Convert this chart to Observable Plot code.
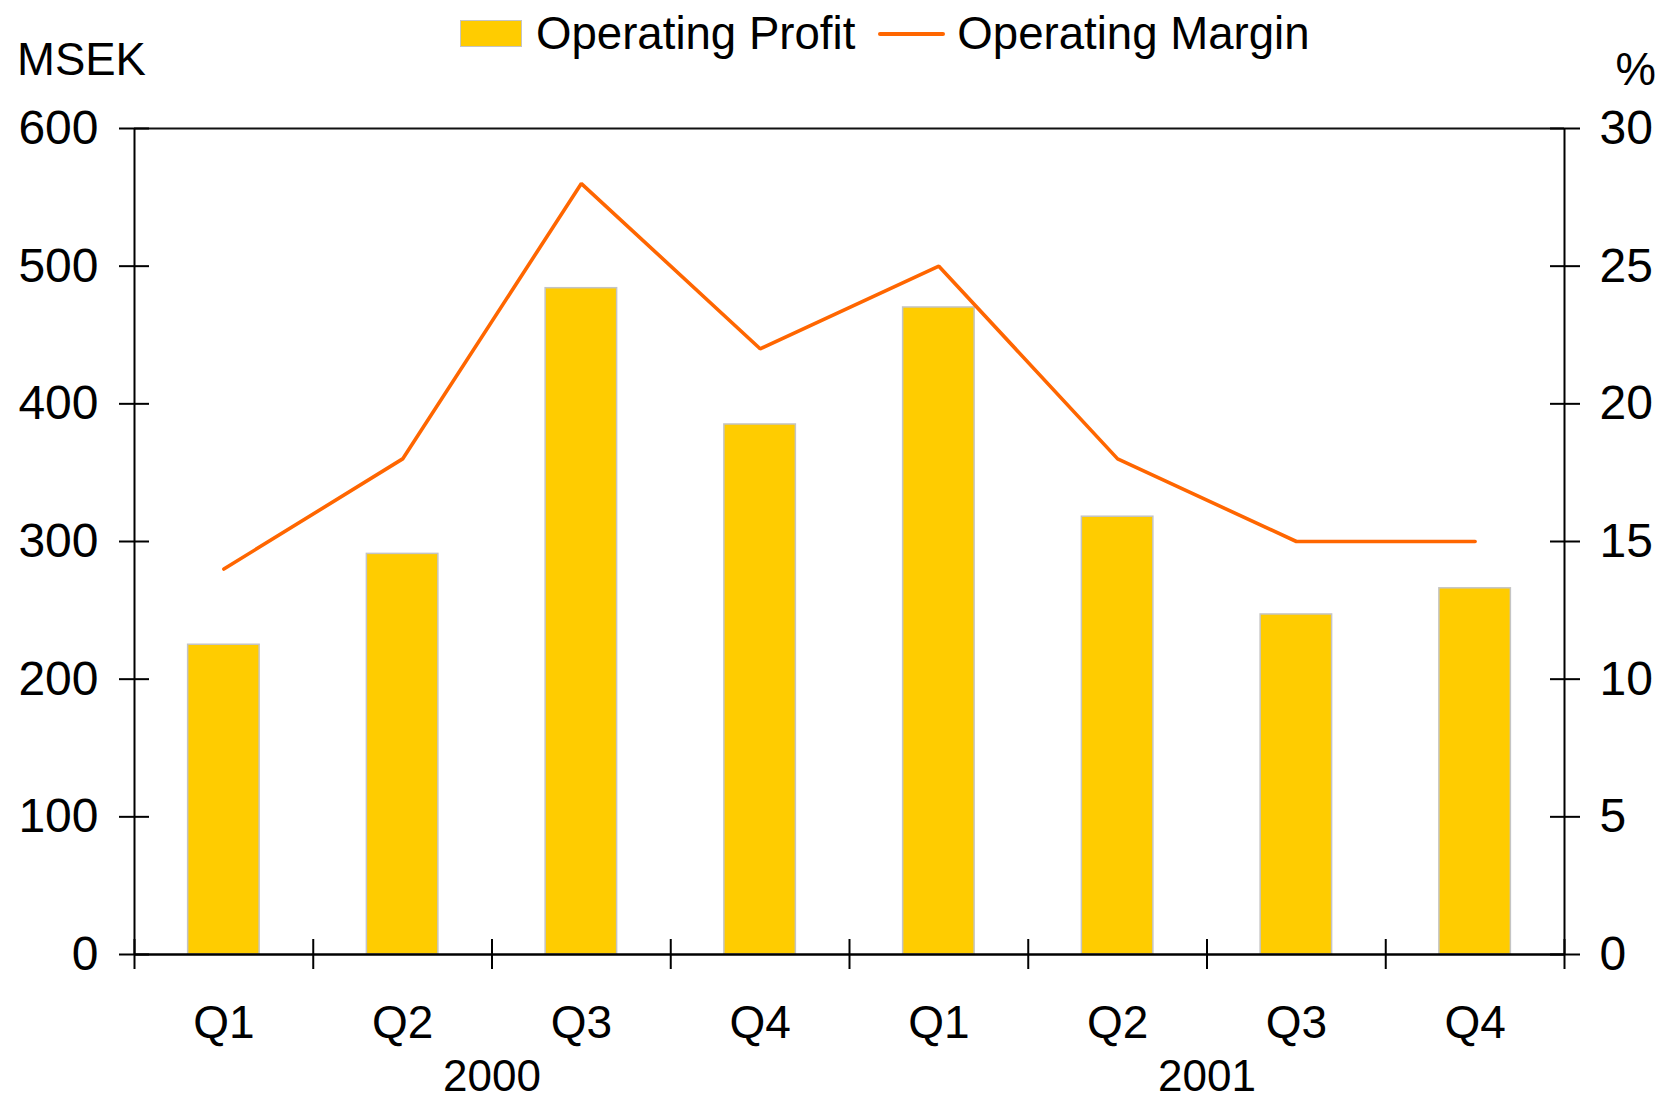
<!DOCTYPE html>
<html>
<head>
<meta charset="utf-8">
<script src="https://cdn.jsdelivr.net/npm/d3@7"></script>
<script src="https://cdn.jsdelivr.net/npm/@observablehq/plot@0.6"></script>
<style>
  html, body { margin: 0; padding: 0; background: #fff; }
  #wrap { position: relative; width: 1663px; height: 1097px; font-family: "Liberation Sans", Arial, sans-serif; color: #000; }
  #wrap svg { position: absolute; left: 0; top: 0; }
  .lbl { position: absolute; font-size: 45.5px; line-height: 45.5px; white-space: nowrap; }
  #legend { position: absolute; top: 11px; left: 460px; height: 45px; display: flex; align-items: center; font-size: 45.6px; line-height: 45px; white-space: nowrap; }
  #legend .sw { width: 60px; height: 25px; background: #FFCC00; border: 1.5px solid #C4C4C4; margin-right: 14px; }
  #legend .ln { width: 67px; height: 4px; background: #FF6600; border-radius: 2px; margin: 0 12px 0 23px; }
</style>
</head>
<body>
<div id="wrap">
  <div id="legend"><div class="sw"></div><span>Operating Profit</span><div class="ln"></div><span>Operating Margin</span></div>
  <div class="lbl" style="left:17px; top:37px;">MSEK</div>
  <div class="lbl" style="right:7px; top:47px;">%</div>
</div>
<script>
const quarters = ["Q1", "Q2", "Q3", "Q4", "Q1", "Q2", "Q3", "Q4"];
const years = [2000, 2000, 2000, 2000, 2001, 2001, 2001, 2001];
const operatingProfit = [225, 291, 484, 385, 470, 318, 247, 266];
const operatingMargin = [14, 18, 28, 22, 25, 18, 15, 15];
const leftTicks = [0, 100, 200, 300, 400, 500, 600];
const rightTicks = [0, 5, 10, 15, 20, 25, 30];

const yMax = d3.max(leftTicks);
const y2Max = d3.max(rightTicks);
const k = yMax / y2Max;

const data = quarters.map((q, i) => ({i, q, year: years[i], profit: operatingProfit[i], margin: operatingMargin[i]}));
const n = data.length;
const boundaries = d3.range(n + 1).map(v => v - 0.5);
const yearGroups = d3.groups(data, d => d.year).map(([year, rows]) => ({year, pos: d3.mean(rows, r => r.i)}));

const chart = Plot.plot({
  width: 1663,
  height: 1097,
  marginTop: 128,
  marginBottom: 143,
  marginLeft: 134,
  marginRight: 99,
  style: {fontFamily: "Liberation Sans, Arial, sans-serif", fontSize: "44px", color: "#000", background: "transparent", overflow: "visible"},
  x: {type: "linear", domain: [-0.5, n - 0.5], axis: null},
  y: {domain: [0, yMax], axis: null},
  marks: [
    Plot.rectY(data, {x1: d => d.i - 0.2, x2: d => d.i + 0.2, y: "profit", fill: "#FFCC00", stroke: "#C4C4C4", strokeWidth: 1.5}),
    Plot.ruleY([yMax], {stroke: "#111", strokeWidth: 2}),
    Plot.ruleX([boundaries[0], boundaries[n]], {stroke: "#000", strokeWidth: 2}),
    Plot.ruleY([0], {stroke: "#000", strokeWidth: 2.5}),
    Plot.line(data, {x: "i", y: d => d.margin * k, stroke: "#FF6600", strokeWidth: 3.6, strokeLinecap: "round", strokeLinejoin: "miter"}),
    // left axis: ticks crossing the axis, then labels
    Plot.axisY({anchor: "left", ticks: leftTicks, tickSize: 30, dx: 15, tickFormat: () => "", strokeWidth: 2, label: null}),
    Plot.axisY({anchor: "left", ticks: leftTicks, tickSize: 0, tickPadding: 36, fontSize: 48, tickFormat: d => String(d), label: null}),
    // right axis
    Plot.axisY({anchor: "right", ticks: rightTicks.map(v => v * k), tickSize: 30, dx: -15, tickFormat: () => "", strokeWidth: 2, label: null}),
    Plot.axisY({anchor: "right", ticks: rightTicks.map(v => v * k), tickSize: 0, tickPadding: 35, fontSize: 48, tickFormat: v => String(v / k), label: null}),
    // bottom axis: boundary ticks, quarter labels, year labels
    Plot.axisX({anchor: "bottom", ticks: boundaries, tickSize: 30, dy: -15, tickFormat: () => "", strokeWidth: 2, label: null}),
    Plot.axisX({anchor: "bottom", ticks: data.map(d => d.i), tickSize: 0, tickPadding: 51, fontSize: 46, tickFormat: i => quarters[i], label: null}),
    Plot.axisX({anchor: "bottom", ticks: yearGroups.map(g => g.pos), tickSize: 0, tickPadding: 105, fontSize: 44, tickFormat: p => String(yearGroups.find(g => g.pos === p).year), label: null})
  ]
});
document.getElementById("wrap").prepend(chart);
</script>
</body>
</html>
